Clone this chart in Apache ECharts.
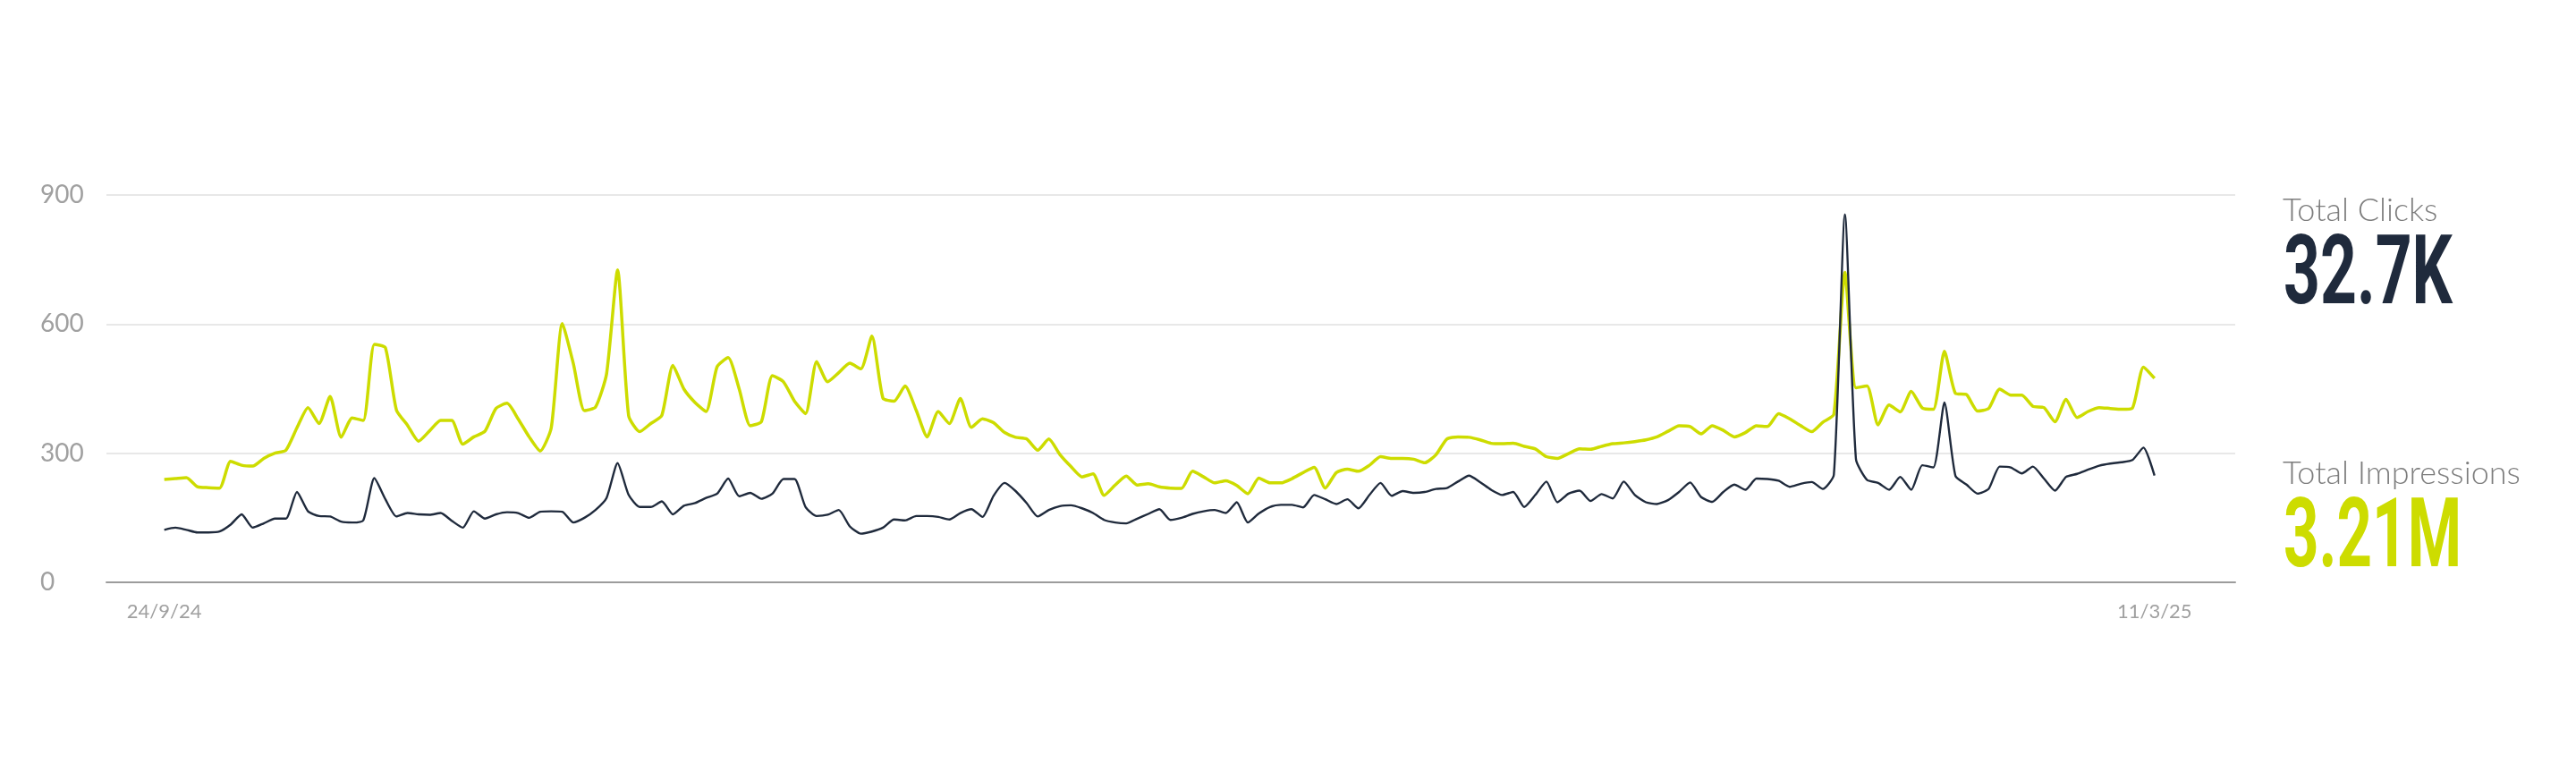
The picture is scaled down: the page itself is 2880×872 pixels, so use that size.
<!DOCTYPE html>
<html><head><meta charset="utf-8">
<script src="https://cdn.jsdelivr.net/npm/echarts@6/dist/echarts.min.js"></script>
<style>html,body{margin:0;padding:0;background:#fff}#c{width:2880px;height:872px}</style>
</head><body><div id="c"></div>
<script>
// ---- data ----
const dateLabels = ['24/9/24', '11/3/25'];
const yTickMax = 900;
const yTickStep = 300;
const impressionsAxisMax = 45000;

const clicks = [
  122,127,122,116,116,118,134,158,127,137,
  148,148,210,165,154,153,141,139,144,242,
  193,153,161,158,157,161,143,127,165,148,
  158,163,161,150,164,165,164,139,150,168,
  196,277,203,175,175,188,158,178,184,196,
  206,241,200,208,194,206,240,240,175,154,
  157,168,130,113,118,127,146,144,154,154,
  152,146,161,170,152,201,231,212,184,153,
  168,177,179,172,161,145,139,137,148,159,
  170,145,150,159,165,168,161,186,139,160,
  175,180,180,174,203,193,182,193,172,203,
  231,201,212,208,210,217,219,234,248,233,
  215,203,210,175,203,234,186,206,213,189,
  205,195,234,203,186,182,191,210,232,198,
  187,210,227,215,241,240,236,222,229,233,
  217,250,855,286,238,231,215,245,215,272,
  267,418,247,227,206,217,269,267,253,269,
  241,213,245,252,262,271,276,279,284,313,248
];

const impressions = [
  11950,12050,12150,11100,11000,10950,14050,13600,13500,14400,
  15000,15350,17950,20300,18450,21600,16850,19100,18800,27650,
  27250,20000,18250,16400,17600,18800,18800,16050,16900,17550,
  20200,20800,19000,16900,15250,17950,30050,25400,19950,20350,
  24200,36300,19350,17500,18450,19400,25200,22450,20900,19850,
  25050,26100,22450,18200,18650,24000,23300,21050,19600,25650,
  23300,24350,25450,24800,28600,21400,21050,22800,20000,16900,
  19850,18450,21350,18000,19000,18550,17400,16850,16650,15350,
  16650,14850,13450,12250,12600,10100,11300,12350,11300,11450,
  11100,10950,10900,12900,12250,11550,11800,11250,10300,12100,
  11550,11550,12050,12750,13350,10950,12750,13150,12900,13600,
  14600,14400,14400,14300,13900,14800,16650,16900,16850,16550,
  16150,16100,16150,15800,15500,14600,14400,14950,15500,15450,
  15800,16100,16200,16350,16550,16900,17550,18200,18100,17250,
  18200,17650,16900,17400,18200,18100,19600,19000,18200,17500,
  18600,19500,36000,22600,22800,18300,20600,19800,22200,20250,
  20100,26850,21950,21800,19900,20200,22450,21750,21750,20450,
  20300,18650,21250,19150,19850,20300,20200,20100,20250,25000,23700
];

const summaryTitles = ['Total Clicks', 'Total Impressions'];
const summaryValues = ['32.7K', '3.21M'];

// ---- styles ----
const NAVY = '#1f2a3c';
const LIME = '#cddc00';
const LABEL_GRAY = '#a0a0a0';
const THIN_FONT = 'Lato, "Open Sans", Roboto, sans-serif';
const BIG_FONT = 'Roboto, "Liberation Sans", sans-serif';

const last = clicks.length - 1;
const clickPts = clicks.map((v, i) => [i, v]);
const imprPts = impressions.map((v, i) => [i, v]);

function fitScale(text, font, target) {
  const ctx = document.createElement('canvas').getContext('2d');
  ctx.font = font;
  return target / ctx.measureText(text).width;
}
const bigSize = 108;
const bigFontCss = '700 ' + bigSize + 'px ' + BIG_FONT;
const s1 = fitScale(summaryValues[0], bigFontCss, 189);
const s2 = fitScale(summaryValues[1], bigFontCss, 199);

const chart = echarts.init(document.getElementById('c'), null, {renderer: 'canvas'});
chart.setOption({
  animation: false,
  backgroundColor: '#ffffff',
  grid: {left: 119, right: 381, top: 218, bottom: 221, containLabel: false, outerBoundsMode: 'none'},
  xAxis: {
    type: 'value',
    min: -5.23, max: 187.3,
    axisLine: {show: true, lineStyle: {color: '#9c9c9c', width: 2}},
    axisTick: {show: false},
    splitLine: {show: false},
    axisLabel: {
      customValues: [0, last],
      formatter: v => (v === 0 ? dateLabels[0] : dateLabels[1]),
      color: LABEL_GRAY, fontSize: 22, fontFamily: THIN_FONT, margin: 22
    }
  },
  yAxis: [{
    type: 'value', min: 0, max: yTickMax, interval: yTickStep,
    axisLine: {show: false}, axisTick: {show: false},
    splitLine: {show: true, lineStyle: {color: '#e8e8e8', width: 2}},
    axisLabel: {color: LABEL_GRAY, fontSize: 28, fontFamily: THIN_FONT, align: 'left', margin: 74}
  }, {
    type: 'value', min: 0, max: impressionsAxisMax, show: false,
    splitLine: {show: false}
  }],
  series: [{
    name: 'Impressions', type: 'line', yAxisIndex: 1, data: imprPts,
    showSymbol: false, symbol: 'none', smooth: 0.2,
    lineStyle: {color: LIME, width: 3.5}, itemStyle: {color: LIME}, z: 2
  }, {
    name: 'Clicks', type: 'line', yAxisIndex: 0, data: clickPts,
    showSymbol: false, symbol: 'none', smooth: 0.2,
    lineStyle: {color: NAVY, width: 2.4}, itemStyle: {color: NAVY}, z: 3
  }],
  graphic: [
    {type: 'text', x: 2552, y: 235, style: {text: summaryTitles[0], fontSize: 36, fontFamily: THIN_FONT, fontWeight: 300, fill: '#7d7d7d', verticalAlign: 'middle'}},
    {type: 'text', x: 2553, y: 312, scaleX: s1, style: {text: summaryValues[0], fontSize: bigSize, fontFamily: BIG_FONT, fontWeight: 700, fill: NAVY, verticalAlign: 'middle'}},
    {type: 'text', x: 2552, y: 529, style: {text: summaryTitles[1], fontSize: 36, fontFamily: THIN_FONT, fontWeight: 300, fill: '#7d7d7d', verticalAlign: 'middle'}},
    {type: 'text', x: 2553, y: 606, scaleX: s2, style: {text: summaryValues[1], fontSize: bigSize, fontFamily: BIG_FONT, fontWeight: 700, fill: LIME, verticalAlign: 'middle'}}
  ]
});
</script>
</body></html>
